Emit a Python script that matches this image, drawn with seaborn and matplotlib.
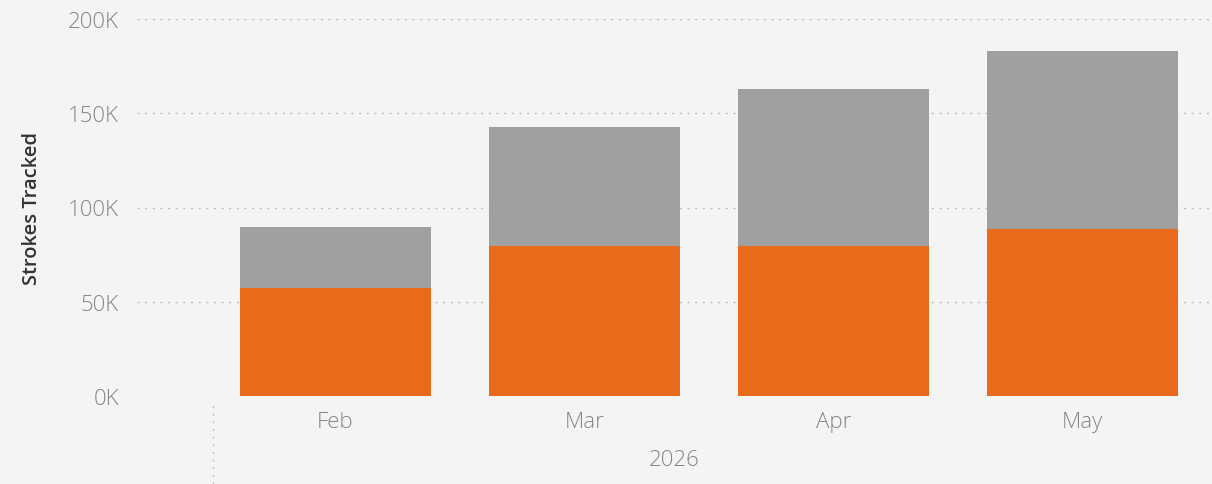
import matplotlib
matplotlib.use("Agg")
import matplotlib.pyplot as plt
import seaborn as sns
import pandas as pd

months = ["Feb", "Mar", "Apr", "May"]
year_label = "2026"
total_strokes = [89500, 142500, 163000, 183000]
orange_strokes = [57500, 79500, 79500, 88500]
y_ticks = [0, 50000, 100000, 150000, 200000]
y_tick_labels = ["0K", "50K", "100K", "150K", "200K"]

sns.set_theme(style="white")
plt.rcParams['font.family'] = ['Open Sans', 'DejaVu Sans']

bg = "#F4F4F4"
tick_col = "#858585"
fig = plt.figure(figsize=(12.12, 4.85), dpi=100, facecolor=bg)
ax = fig.add_axes([137/1212, 1 - 397/485, 1 - 137/1212, (397 - 20)/485])
ax.set_facecolor(bg)

df = pd.DataFrame({"month": months, "total": total_strokes, "orange": orange_strokes})
sns.barplot(data=df, x="month", y="total", color="#A0A0A0", width=0.767,
            saturation=1, ax=ax, zorder=2, linewidth=0, edgecolor="none")
sns.barplot(data=df, x="month", y="orange", color="#E96A1B", width=0.767,
            saturation=1, ax=ax, zorder=3, linewidth=0, edgecolor="none")

ax.set_ylim(0, 200000)
ax.set_xlim(-0.797, 3.52)
ax.set_yticks(y_ticks)
ax.set_yticklabels(y_tick_labels)
ax.yaxis.grid(True, linestyle=(0, (1.5, 4)), color="#BDBDBD", linewidth=1, zorder=0)
ax.set_axisbelow(True)
for s in ax.spines.values():
    s.set_visible(False)
ax.tick_params(axis="both", length=0, labelsize=16, labelcolor=tick_col)
ax.tick_params(axis="y", pad=13)
ax.tick_params(axis="x", pad=11)
for lab in ax.get_xticklabels() + ax.get_yticklabels():
    lab.set_fontweight("light")
ax.set_xlabel(year_label, fontsize=16, color=tick_col, labelpad=12, fontweight="light")
ax.set_ylabel("Strokes Tracked", fontsize=14.5, color="#333333", fontweight="semibold", labelpad=19)

# hierarchy separator dotted line
fig.add_artist(plt.Line2D([213/1212, 213/1212], [0, 1 - 402/485], transform=fig.transFigure,
                          linestyle=(0, (1.5, 4)), color="#BDBDBD", linewidth=1))

fig.savefig("out.png", dpi=100, facecolor=bg)
